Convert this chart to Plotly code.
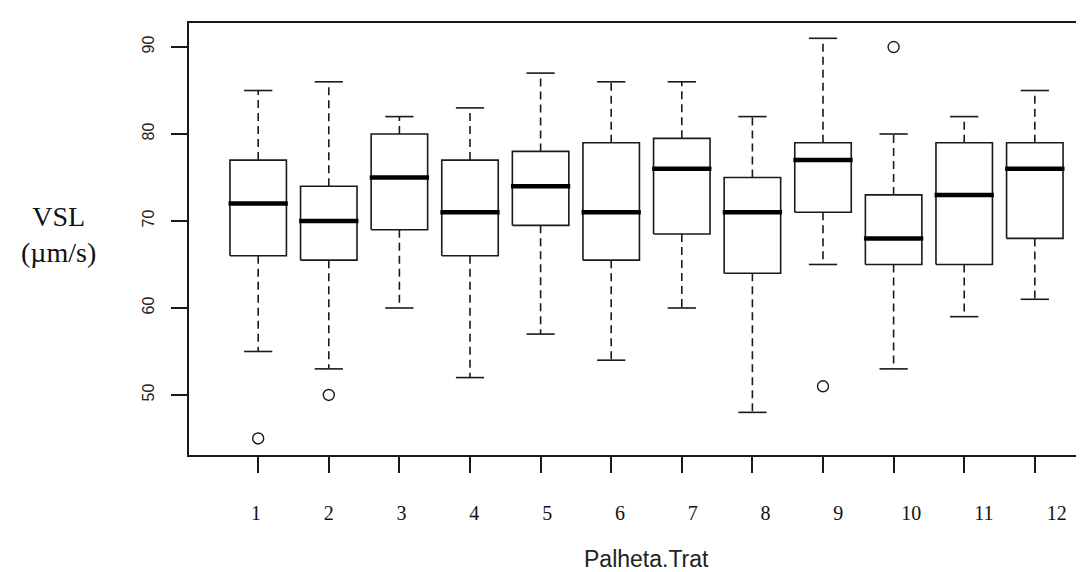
import plotly.graph_objects as go

# ---- data ----
groups = [1, 2, 3, 4, 5, 6, 7, 8, 9, 10, 11, 12]
tick_labels = ["1", "2", "3", "4", "5", "6", "7", "8", "9", "10", "11", "12"]
lower_whisker = [55, 53, 60, 52, 57, 54, 60, 48, 65, 53, 59, 61]
q1 = [66, 65.5, 69, 66, 69.5, 65.5, 68.5, 64, 71, 65, 65, 68]
median = [72, 70, 75, 71, 74, 71, 76, 71, 77, 68, 73, 76]
q3 = [77, 74, 80, 77, 78, 79, 79.5, 75, 79, 73, 79, 79]
upper_whisker = [85, 86, 82, 83, 87, 86, 86, 82, 91, 80, 82, 85]
outlier_group = [1, 2, 9, 10]
outlier_value = [45, 50, 51, 90]

x_title = "Palheta.Trat"
y_title = "VSL<br>(µm/s)"

# ---- style ----
BOX_HALF = 0.4
MED_HALF = 0.42
CAP_HALF = 0.2
LINE = "#1a1a1a"

bx, by, mx, my, wx, wy, cx, cy = [], [], [], [], [], [], [], []
for g, a, b, c, d, e in zip(groups, lower_whisker, q1, median, q3, upper_whisker):
    bx += [g - BOX_HALF, g + BOX_HALF, g + BOX_HALF, g - BOX_HALF, g - BOX_HALF, None]
    by += [b, b, d, d, b, None]
    mx += [g - MED_HALF, g + MED_HALF, None]
    my += [c, c, None]
    wx += [g, g, None, g, g, None]
    wy += [d, e, None, b, a, None]
    cx += [g - CAP_HALF, g + CAP_HALF, None, g - CAP_HALF, g + CAP_HALF, None]
    cy += [e, e, None, a, a, None]

fig = go.Figure()
fig.add_trace(go.Scatter(x=wx, y=wy, mode="lines",
                         line=dict(color=LINE, width=1.6, dash="8px,5px"),
                         hoverinfo="skip", showlegend=False))
fig.add_trace(go.Scatter(x=cx, y=cy, mode="lines",
                         line=dict(color=LINE, width=1.6),
                         hoverinfo="skip", showlegend=False))
fig.add_trace(go.Scatter(x=bx, y=by, mode="lines",
                         line=dict(color=LINE, width=1.6),
                         hoverinfo="skip", showlegend=False))
fig.add_trace(go.Scatter(x=mx, y=my, mode="lines",
                         line=dict(color="#000000", width=4.5),
                         hoverinfo="skip", showlegend=False))
fig.add_trace(go.Scatter(x=outlier_group, y=outlier_value, mode="markers",
                         marker=dict(symbol="circle-open", size=11,
                                     color=LINE, line=dict(width=1.4)),
                         showlegend=False))
# invisible trace to activate the label axis
fig.add_trace(go.Scatter(x=groups, y=median, xaxis="x2", mode="markers",
                         marker=dict(opacity=0), hoverinfo="skip",
                         showlegend=False))

fig.update_layout(
    width=1084, height=572,
    margin=dict(l=181, r=0, t=15, b=125),
    paper_bgcolor="white", plot_bgcolor="white",
    showlegend=False,
    xaxis=dict(
        range=[0.02, 12.81], tickvals=groups, showticklabels=False,
        ticks="outside", ticklen=16, tickwidth=1.6, tickcolor=LINE,
        showline=True, linecolor=LINE, linewidth=1.6, mirror=True,
        showgrid=False, zeroline=False,
    ),
    xaxis2=dict(
        range=[0.08, 12.484], overlaying="x", anchor="y", side="bottom",
        tickvals=groups, ticktext=tick_labels, ticks="",
        showline=False, showgrid=False, zeroline=False,
        tickfont=dict(family="Liberation Serif", size=20, color="#111"),
        ticklabelstandoff=44,
    ),
    yaxis=dict(
        range=[43.1, 92.76], tickvals=[50, 60, 70, 80, 90],
        ticks="outside", ticklen=16, tickwidth=1.6, tickcolor=LINE,
        tickangle=-90, ticklabelstandoff=11,
        tickfont=dict(family="Liberation Sans", size=16, color="#222"),
        showline=True, linecolor=LINE, linewidth=1.6, mirror=False,
        showgrid=False, zeroline=False,
    ),
    annotations=[
        dict(text=y_title, xref="paper", yref="paper",
             x=-0.145, y=(572 - 125 - 226) / 432, xanchor="center", yanchor="middle",
             showarrow=False, align="center",
             font=dict(family="Liberation Serif", size=28, color="#111")),
        dict(text=x_title, xref="paper", yref="paper",
             x=(638.5 - 181) / 903, y=-(566 - 447) / 432,
             xanchor="center", yanchor="bottom", showarrow=False,
             font=dict(family="Liberation Sans", size=23, color="#222")),
    ],
)

fig.write_html("out.html")
